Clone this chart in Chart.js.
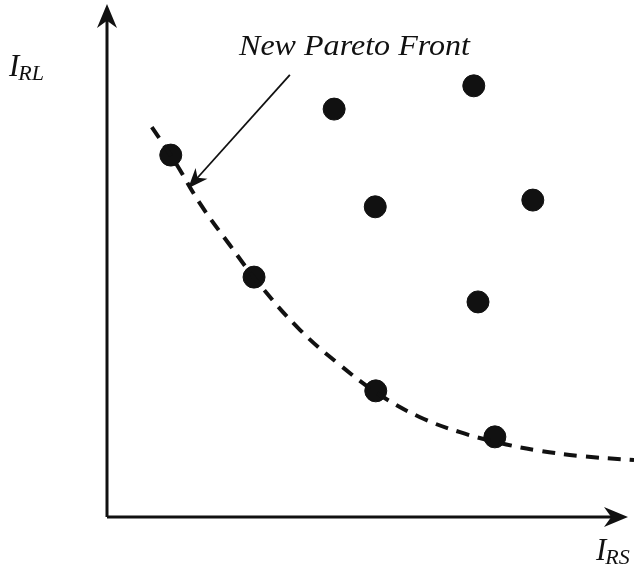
<!DOCTYPE html>
<html>
<head>
<meta charset="utf-8">
<script src="https://cdn.jsdelivr.net/npm/chart.js@4.4.1/dist/chart.umd.min.js"></script>
<style>
  html, body { margin: 0; padding: 0; background: #fff; }
  #wrap { width: 634px; height: 571px; position: relative; }
</style>
</head>
<body>
<div id="wrap"><canvas id="paretoChart"></canvas></div>
<script>
// ── data (abstract units, 0..100 on each axis) ──
const frontX = [12.1, 27.9, 51.0, 73.6];
const frontY = [70.0, 46.4, 24.4, 15.5];
const otherX = [43.1, 69.6, 50.9, 80.8, 70.4];
const otherY = [78.9, 83.4, 60.0, 61.3, 41.6];
const curveX = [8.5, 12.9, 17.6, 23.3, 29.0, 36.6, 44.2, 51.8, 59.4, 67.0, 74.6, 82.2, 89.8, 100];
const curveY = [75.4, 68.7, 60.7, 52.6, 44.9, 36.2, 29.4, 23.6, 19.3, 16.4, 14.3, 12.8, 11.8, 11.0];
const noteText = 'New Pareto Front';
const noteFrom = [34.7, 85.5];
const noteTo = [15.4, 63.6];
const xLabel = ['I', 'RS'];
const yLabel = ['I', 'RL'];

const SERIF = '"Liberation Serif", "Times New Roman", Times, serif';
const zip = (xs, ys) => xs.map((x, i) => ({ x, y: ys[i] }));

function arrowHead(ctx, tx, ty, ang, len, half) {
  ctx.beginPath();
  ctx.moveTo(tx, ty);
  ctx.lineTo(tx - len * Math.cos(ang) + half * Math.sin(ang), ty - len * Math.sin(ang) - half * Math.cos(ang));
  ctx.lineTo(tx - len * 0.7 * Math.cos(ang), ty - len * 0.7 * Math.sin(ang));
  ctx.lineTo(tx - len * Math.cos(ang) - half * Math.sin(ang), ty - len * Math.sin(ang) + half * Math.cos(ang));
  ctx.closePath();
  ctx.fill();
}

function subLabel(ctx, parts, x, y) {
  ctx.font = 'italic 31px ' + SERIF;
  ctx.textBaseline = 'alphabetic';
  ctx.textAlign = 'left';
  ctx.fillText(parts[0], x, y);
  const w = ctx.measureText(parts[0]).width;
  ctx.font = 'italic 22px ' + SERIF;
  ctx.fillText(parts[1], x + w - 1, y + 4);
}

const axesPlugin = {
  id: 'axesPlugin',
  beforeDatasetsDraw(chart) {
    const { ctx, scales: { x, y } } = chart;
    const x0 = x.getPixelForValue(0), y0 = y.getPixelForValue(0);
    ctx.save();
    ctx.strokeStyle = '#111';
    ctx.fillStyle = '#111';
    ctx.lineWidth = 3;
    ctx.beginPath();
    ctx.moveTo(x0, y0); ctx.lineTo(x0, 14);
    ctx.moveTo(x0, y0); ctx.lineTo(618, y0);
    ctx.stroke();
    arrowHead(ctx, x0, 4, -Math.PI / 2, 24, 10);
    arrowHead(ctx, 628, y0, 0, 24, 10);
    ctx.restore();
  },
  afterDraw(chart) {
    const { ctx, scales: { x, y } } = chart;
    ctx.save();
    ctx.fillStyle = '#111';
    ctx.strokeStyle = '#111';
    // annotation arrow
    const fx = x.getPixelForValue(noteFrom[0]), fy = y.getPixelForValue(noteFrom[1]);
    const tx = x.getPixelForValue(noteTo[0]), ty = y.getPixelForValue(noteTo[1]);
    const ang = Math.atan2(ty - fy, tx - fx);
    ctx.lineWidth = 1.8;
    ctx.beginPath();
    ctx.moveTo(fx, fy);
    ctx.lineTo(tx - 12 * Math.cos(ang), ty - 12 * Math.sin(ang));
    ctx.stroke();
    arrowHead(ctx, tx, ty, ang, 20, 8);
    // texts
    ctx.font = 'italic 30px ' + SERIF;
    ctx.textAlign = 'left';
    ctx.textBaseline = 'alphabetic';
    const w = ctx.measureText(noteText).width;
    ctx.save();
    ctx.translate(239, 55);
    ctx.scale(231 / w, 1);
    ctx.fillText(noteText, 0, 0);
    ctx.restore();
    subLabel(ctx, yLabel, 9, 76);
    subLabel(ctx, xLabel, 596, 560);
    ctx.restore();
  }
};

new Chart(document.getElementById('paretoChart').getContext('2d'), {
  type: 'scatter',
  data: {
    datasets: [
      { type: 'line', data: zip(curveX, curveY), borderColor: '#111', borderWidth: 4, borderDash: [13, 9], tension: 0.4, pointRadius: 0, fill: false, clip: false },
      { data: zip(frontX, frontY), backgroundColor: '#111', borderColor: '#111', pointRadius: 11, clip: false },
      { data: zip(otherX, otherY), backgroundColor: '#111', borderColor: '#111', pointRadius: 11, clip: false }
    ]
  },
  options: {
    responsive: true, maintainAspectRatio: false, animation: false,
    layout: { autoPadding: false, padding: { left: 107, right: 0, top: 0, bottom: 54 } },
    plugins: { legend: { display: false }, tooltip: { enabled: false } },
    scales: {
      x: { type: 'linear', min: 0, max: 100, display: false },
      y: { type: 'linear', min: 0, max: 100, display: false }
    }
  },
  plugins: [axesPlugin]
});
</script>
</body>
</html>
